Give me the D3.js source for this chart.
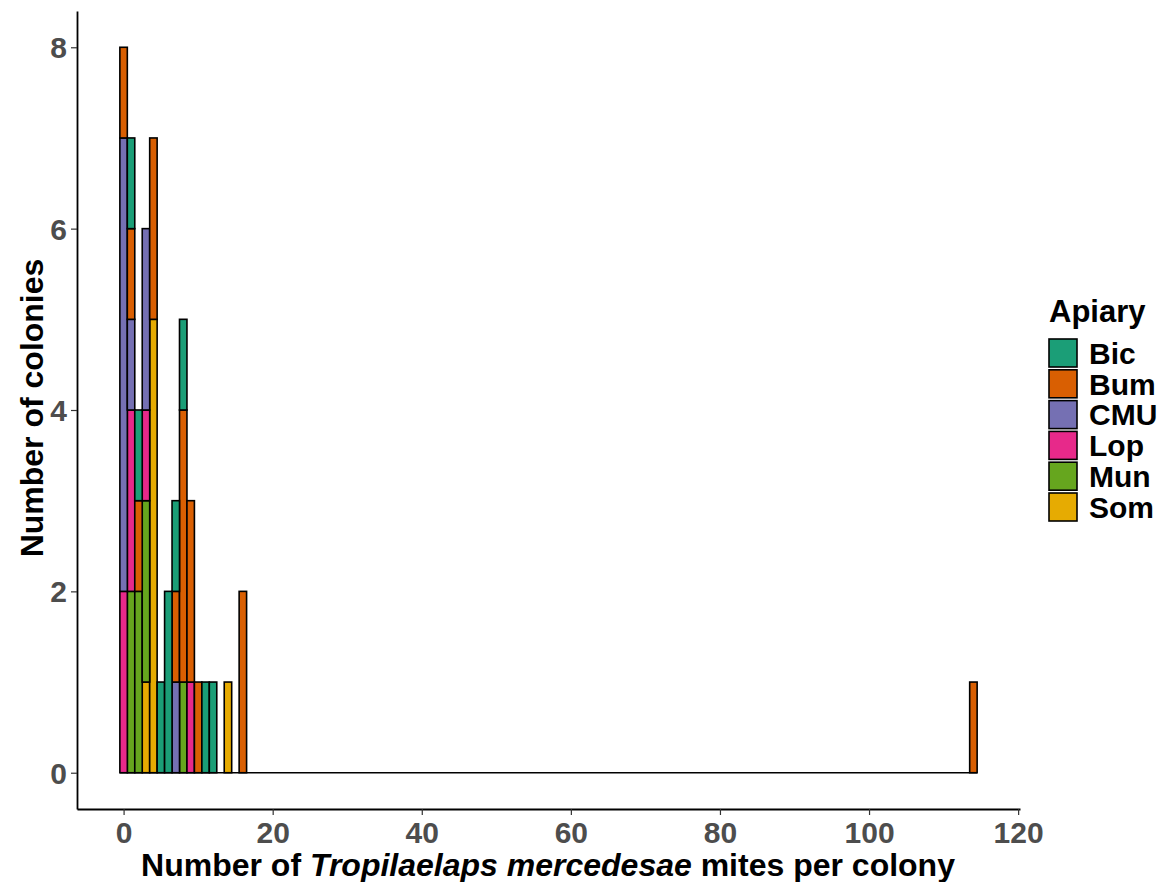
<!DOCTYPE html>
<html>
<head>
<meta charset="utf-8">
<script src="https://cdn.jsdelivr.net/npm/d3@7"></script>
<style>
  body { margin: 0; background: #fff; }
  svg { display: block; font-family: "Liberation Sans", Arial, sans-serif; }
</style>
</head>
<body>
<svg id="chart" width="1176" height="882"></svg>
<script>
// mites per colony bins (binwidth 1), only the non-empty ones
var mites = [0, 1, 2, 3, 4, 5, 6, 7, 8, 9, 10, 11, 12, 14, 16, 114];
var apiaries = ["Bic", "Bum", "CMU", "Lop", "Mun", "Som"];
var bic = [0, 1, 1, 0, 0, 1, 2, 1, 1, 0, 0, 1, 1, 0, 0, 0];
var bum = [1, 1, 1, 0, 2, 0, 0, 1, 3, 2, 1, 0, 0, 0, 2, 1];
var cmu = [5, 1, 0, 2, 0, 0, 0, 1, 0, 0, 0, 0, 0, 0, 0, 0];
var lop = [2, 2, 0, 1, 0, 0, 0, 0, 0, 1, 0, 0, 0, 0, 0, 0];
var mun = [0, 2, 2, 2, 0, 0, 0, 0, 1, 0, 0, 0, 0, 0, 0, 0];
var som = [0, 0, 0, 1, 5, 0, 0, 0, 0, 0, 0, 0, 0, 1, 0, 0];
var colours = ["#1B9E77", "#D95F02", "#7570B3", "#E7298A", "#66A61E", "#E6AB02"];
var xTicks = [0, 20, 40, 60, 80, 100, 120];
var yTicks = [0, 2, 4, 6, 8];

function draw_histogram() {
    var svg = d3.select("#chart"),
        counts = [bic, bum, cmu, lop, mun, som];

    var rows = mites.map(function(m, i) {
        var r = {mites: m};
        apiaries.forEach(function(a, j) { r[a] = counts[j][i]; });
        return r;
    });

    var x = d3.scaleLinear().domain([-6.25, 120.25]).range([77, 1020]),
        y = d3.scaleLinear().domain([-0.4, 8.4]).range([809, 11]),
        colour = d3.scaleOrdinal().domain(apiaries).range(colours);

    // ggplot stacks the last level at the bottom
    var stacked = d3.stack().keys(apiaries.slice().reverse())(rows);

    // zero-height outline across the empty bins
    svg.append("line")
        .attr("x1", x(-0.5)).attr("x2", x(114.5))
        .attr("y1", y(0)).attr("y2", y(0))
        .attr("stroke", "black").attr("stroke-width", 1.6);

    svg.append("g")
        .selectAll("g")
        .data(stacked)
        .enter().append("g")
        .attr("fill", d => colour(d.key))
        .selectAll("rect")
        .data(d => d.filter(s => s[1] > s[0]))
        .enter().append("rect")
        .attr("x", d => x(d.data.mites - 0.5))
        .attr("width", d => x(d.data.mites + 0.5) - x(d.data.mites - 0.5))
        .attr("y", d => y(d[1]))
        .attr("height", d => y(d[0]) - y(d[1]))
        .attr("stroke", "black")
        .attr("stroke-width", 1.6);

    // axes
    var xAxis = svg.append("g").attr("transform", "translate(0,809)")
        .call(d3.axisBottom(x).tickValues(xTicks).tickSizeInner(6).tickSizeOuter(0).tickPadding(7));
    var yAxis = svg.append("g").attr("transform", "translate(77,0)")
        .call(d3.axisLeft(y).tickValues(yTicks).tickSizeInner(6).tickSizeOuter(0).tickPadding(4));

    [xAxis, yAxis].forEach(function(a) {
        a.select(".domain").attr("stroke", "black").attr("stroke-width", 1.8);
        a.selectAll(".tick line").attr("stroke", "#333").attr("stroke-width", 1.2);
        a.selectAll(".tick text")
            .attr("fill", "#4d4d4d")
            .style("font-size", "30px")
            .style("font-weight", "bold")
            .style("font-family", "Liberation Sans, Arial, sans-serif");
    });
    yAxis.selectAll(".tick text").attr("dy", "0.35em");

    // axis titles
    var xt = svg.append("text")
        .attr("x", 548).attr("y", 876)
        .attr("text-anchor", "middle")
        .style("font-size", "32px").style("font-weight", "bold");
    xt.append("tspan").text("Number of ");
    xt.append("tspan").style("font-style", "italic").text("Tropilaelaps mercedesae");
    xt.append("tspan").text(" mites per colony");

    svg.append("text")
        .attr("transform", "translate(43,408) rotate(-90)")
        .attr("text-anchor", "middle")
        .style("font-size", "32px").style("font-weight", "bold")
        .text("Number of colonies");

    // legend
    var legend = svg.append("g").attr("transform", "translate(1049,0)");
    legend.append("text")
        .attr("x", 0).attr("y", 322)
        .style("font-size", "31px").style("font-weight", "bold")
        .text("Apiary");

    var item = legend.selectAll(".item")
        .data(apiaries)
        .enter().append("g").classed("item", true)
        .attr("transform", (d, i) => "translate(0," + (339 + i * 30.8) + ")");
    item.append("rect")
        .attr("width", 28).attr("height", 28)
        .attr("fill", d => colour(d))
        .attr("stroke", "black").attr("stroke-width", 1.6);
    item.append("text")
        .attr("x", 40).attr("y", 14).attr("dy", "0.36em")
        .style("font-size", "30px").style("font-weight", "bold")
        .text(d => d);
}

draw_histogram();
</script>
</body>
</html>
